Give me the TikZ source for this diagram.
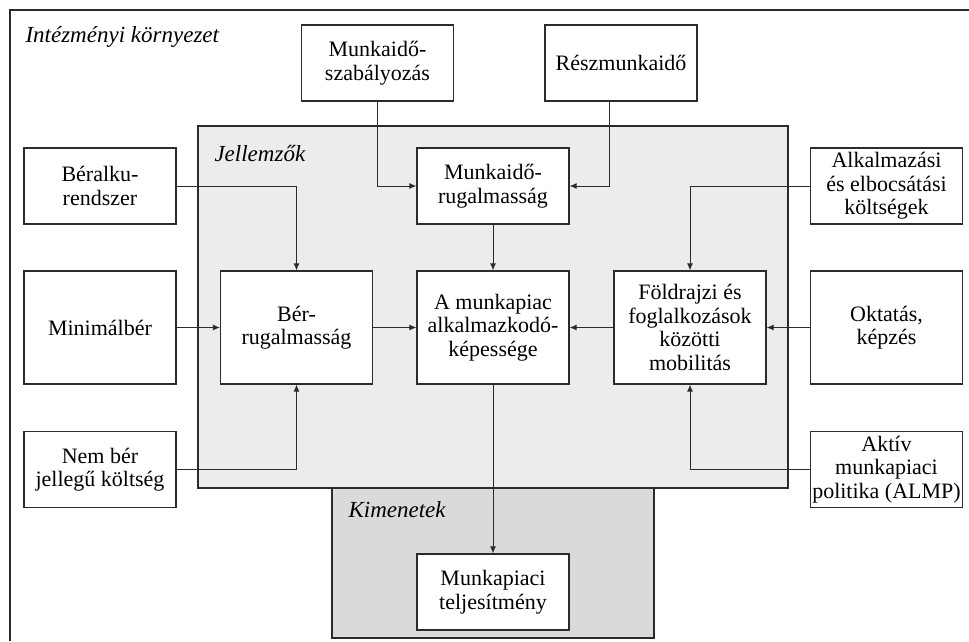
\documentclass[tikz,border=0pt]{standalone}
\usepackage{fontspec}
\setmainfont{Liberation Serif}
\usetikzlibrary{arrows.meta}
\definecolor{jell}{HTML}{ECECEC}
\definecolor{kim}{HTML}{D9DADC}
\definecolor{vonal}{HTML}{2B2B2B}

\begin{document}
\begin{tikzpicture}[x=1pt,y=-1pt,
    doboz/.style={draw=vonal,line width=1.2pt,fill=white,align=center,inner sep=0pt,
        minimum width=152pt,minimum height=76pt,font=\fontsize{22}{23.5}\selectfont},
    magas/.style={minimum height=113pt},
    nyil/.style={draw=vonal,line width=1pt,-{Latex[length=7pt,width=6pt]}},
    cimke/.style={anchor=west,font=\fontsize{23}{24}\selectfont\itshape}]
    \useasboundingbox (0,0) rectangle (969,641);
    % keret es a ket szurke terulet
    \draw[vonal,line width=1.3pt] (10,641)--(10,10)--(969,10);
    \filldraw[fill=jell,draw=vonal,line width=1.2pt] (198,126) rectangle (788,488);
    \filldraw[fill=kim,draw=vonal,line width=1.2pt] (332,488) rectangle (654,638);
    \node[cimke] (ik) at (22,37) {Intézményi környezet};
    \node[cimke] (jl) at (211,153) {Jellemzők};
    \node[cimke] (km) at (345,510) {Kimenetek};
    % dobozok
    \node[doboz] (msz) at (377.5,63) {Munkaidő-\\szabályozás};
    \node[doboz] (rsz) at (621,63) {Részmunkaidő};
    \node[doboz] (bar) at (100,186) {Béralku-\\rendszer};
    \node[doboz] (mrg) at (493,186) {Munkaidő-\\rugalmasság};
    \node[doboz] (alk) at (886.5,186) {Alkalmazási\\és elbocsátási\\költségek};
    \node[doboz,magas] (min) at (100,327.5) {Minimálbér};
    \node[doboz,magas] (brg) at (296.5,327.5) {Bér-\\rugalmasság};
    \node[doboz,magas] (amp) at (493,327.5) {A munkapiac\\alkalmazkodó-\\képessége};
    \node[doboz,magas] (fmb) at (690,327.5) {Földrajzi és\\foglalkozások\\közötti\\mobilitás};
    \node[doboz,magas] (okt) at (886.5,327.5) {Oktatás,\\képzés};
    \node[doboz] (nbk) at (100,469.5) {Nem bér\\jellegű költség};
    \node[doboz] (alm) at (886.5,469.5) {Aktív\\munkapiaci\\politika (ALMP)};
    \node[doboz] (mpt) at (493,592) {Munkapiaci\\teljesítmény};
    % nyilak
    \draw[nyil] (msz.south) |- (mrg.west);
    \draw[nyil] ([xshift=-12pt]rsz.south) |- (mrg.east);
    \draw[nyil] (bar.east) -| (brg.north);
    \draw[nyil] (nbk.east) -| (brg.south);
    \draw[nyil] (min.east) -- (brg.west);
    \draw[nyil] (brg.east) -- (amp.west);
    \draw[nyil] (fmb.west) -- (amp.east);
    \draw[nyil] (okt.west) -- (fmb.east);
    \draw[nyil] (alk.west) -| (fmb.north);
    \draw[nyil] (alm.west) -| (fmb.south);
    \draw[nyil] (mrg.south) -- (amp.north);
    \draw[nyil] (amp.south) -- (mpt.north);
\end{tikzpicture}
\end{document}
